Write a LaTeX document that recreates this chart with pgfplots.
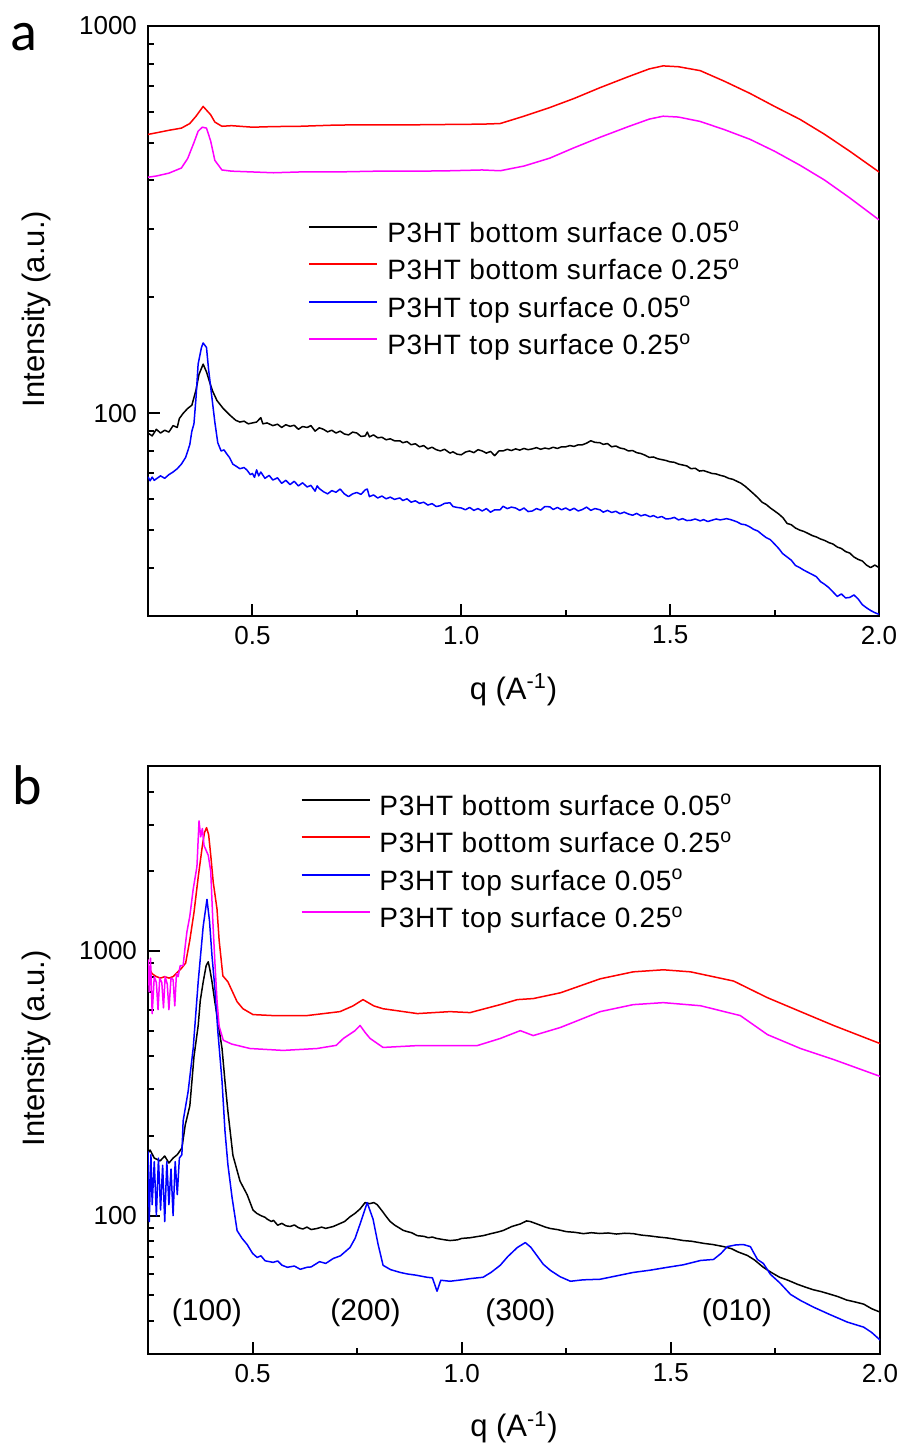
\documentclass[border=0pt]{standalone}
\usepackage{fontspec}
\setmainfont{Liberation Sans}
\newfontfamily\panelfont{Carlito}
\newfontfamily\legfont[LetterSpace=2.5]{Liberation Sans}
\usepackage{pgfplots}
\pgfplotsset{compat=1.18}

\definecolor{cred}{RGB}{255,0,0}
\definecolor{cblue}{RGB}{0,0,255}
\definecolor{cmag}{RGB}{255,0,255}

\pgfplotsset{
  refaxis/.style={
    scale only axis,
    xmin=0.25, xmax=2.0, ymin=30,
    axis line style={line width=1pt},
    xtick={0.5,1.0,1.5,2.0},
    xticklabels={0.5,1.0,1.5,2.0},
    minor xtick={0.75,1.25,1.75},
    xtick pos=bottom, ytick pos=left,
    tick align=inside,
    major tick length=6pt, minor tick length=3pt,
    every tick/.style={black, line width=1pt},
    tick label style={font=\fontsize{13}{15}\selectfont},
    xticklabel style={yshift=-1.5pt},
    yticklabel style={xshift=-2pt},
    /pgf/number format/assume math mode=true,
    xlabel={q (A\textsuperscript{-1})},
    ylabel={Intensity (a.u.)},
    every axis y label/.style={at={(axis description cs:-0.152,0.52)}, rotate=90, anchor=center, font=\fontsize{15.5}{18}\selectfont},
    every axis x label/.style={at={(axis description cs:0.5,-0.125)}, anchor=center, font=\fontsize{15.5}{18}\selectfont},
    legend cell align=left,
    legend style={draw=none, fill=none, anchor=north west,
      font=\legfont\fontsize{14}{17}\selectfont, inner sep=0pt,
      row sep=5.25pt, column sep=4.5pt,
      nodes={inner sep=0pt, text height=10.5pt, text depth=3pt}},
    legend image code/.code={\draw[#1, line width=0.9pt] (0pt,3.9pt) -- (34pt,3.9pt);},
    every axis plot/.append style={line width=0.75pt, line join=round},
  }
}

\begin{document}
\begin{tikzpicture}
\path[use as bounding box] (0pt,0pt) rectangle (451pt,-724.5pt);

% panel a
\begin{semilogyaxis}[refaxis, at={(74pt,-308pt)}, anchor=south west,
  width=365.5pt, height=295pt, ymax=1000,
  ytick={100,1000}, yticklabels={100,1000},
  minor ytick={40,50,60,70,80,90,200,300,400,500,600,700,800,900},
  legend style={at={(0.219,0.670)}}]
\addplot[black] coordinates {(0.25,89) (0.26,87.5) (0.27,91) (0.28,89) (0.29,90.5) (0.3,89.5) (0.31,93) (0.32,92) (0.325,97) (0.334,100) (0.345,103) (0.355,105) (0.365,115) (0.372,126) (0.382,134) (0.39,128) (0.398,120) (0.405,114) (0.415,108) (0.43,103) (0.446,99) (0.46,96) (0.47,95) (0.48,95.5) (0.49,94) (0.5,94.5) (0.51,95) (0.52,97.5) (0.525,94) (0.535,94.5) (0.549,93) (0.56,93.8) (0.57,92) (0.58,93.5) (0.59,92.6) (0.6,93.2) (0.61,91) (0.62,92.5) (0.631,92) (0.64,93) (0.65,90) (0.66,91.8) (0.67,91) (0.68,89.6) (0.69,90.5) (0.7,89) (0.71,90) (0.72,88.5) (0.73,88) (0.74,89.5) (0.75,89) (0.76,87.2) (0.77,87.5) (0.775,89.5) (0.78,87) (0.79,88) (0.8,86.5) (0.81,86.8) (0.82,85.5) (0.83,86) (0.84,85) (0.853,85) (0.86,84) (0.87,84.6) (0.88,83) (0.89,83.5) (0.9,82) (0.91,82.6) (0.92,81) (0.93,81.8) (0.94,80.6) (0.95,80) (0.96,80.8) (0.973,79) (0.98,79.6) (0.99,78.5) (1.0,78.2) (1.01,79.5) (1.02,80) (1.03,79.2) (1.04,80.6) (1.05,80) (1.06,79) (1.07,79.8) (1.08,77.8) (1.09,80) (1.1,80) (1.11,80.8) (1.12,80.2) (1.13,81) (1.14,80.4) (1.15,81.2) (1.16,80.6) (1.17,81) (1.18,81.6) (1.19,80.8) (1.2,81.4) (1.21,81) (1.22,81.8) (1.23,81.2) (1.24,82) (1.25,82) (1.26,82.6) (1.27,82.2) (1.28,83) (1.29,83) (1.3,83.8) (1.31,85) (1.32,84.2) (1.332,84) (1.34,83.2) (1.35,83.6) (1.36,82) (1.37,82.4) (1.38,81.4) (1.39,81) (1.4,80) (1.41,80.2) (1.42,79.2) (1.43,78.8) (1.44,78) (1.45,77) (1.46,77.2) (1.47,76.4) (1.48,76) (1.49,75.6) (1.5,75) (1.51,74.8) (1.52,74) (1.53,73.6) (1.54,73.2) (1.55,72) (1.56,72.2) (1.57,71) (1.58,71.2) (1.59,70.6) (1.6,70) (1.61,69.8) (1.62,69.2) (1.63,68.8) (1.64,68) (1.65,67.6) (1.66,66.8) (1.67,66) (1.68,64.8) (1.69,63.4) (1.7,62) (1.71,60.6) (1.72,59) (1.73,58.2) (1.74,57) (1.75,56) (1.76,55) (1.77,53.8) (1.78,52) (1.79,51.6) (1.8,50.6) (1.81,50) (1.82,49.6) (1.83,49) (1.84,48.4) (1.85,48) (1.86,47.4) (1.87,47) (1.88,46.4) (1.89,46) (1.9,45.2) (1.91,44.8) (1.92,44) (1.93,43.6) (1.94,42.6) (1.95,42) (1.96,41.6) (1.97,40.6) (1.98,40) (1.99,40.6) (2.0,40)};
\addlegendentry{P3HT bottom surface 0.05\textsuperscript{o}}
\addplot[cred] coordinates {(0.25,525) (0.27,530) (0.3,538) (0.33,545) (0.35,560) (0.365,585) (0.382,620) (0.4,590) (0.41,565) (0.427,551) (0.45,553) (0.5,548) (0.55,550) (0.614,551) (0.7,555) (0.8,556) (0.9,556) (0.973,557) (1.05,558) (1.093,560) (1.15,585) (1.212,616) (1.27,650) (1.332,693) (1.4,740) (1.45,775) (1.483,789) (1.52,785) (1.572,767) (1.63,720) (1.691,670) (1.75,620) (1.811,574) (1.87,525) (1.93,475) (2.0,420)};
\addlegendentry{P3HT bottom surface 0.25\textsuperscript{o}}
\addplot[cblue] coordinates {(0.25,68.6) (0.255,67) (0.26,68.5) (0.265,67.2) (0.27,67.8) (0.28,69) (0.29,68) (0.3,69.5) (0.31,70.6) (0.32,72) (0.33,74) (0.34,77) (0.35,83) (0.355,90) (0.36,94) (0.365,110) (0.37,134) (0.378,148) (0.382,152) (0.39,148) (0.395,130) (0.4,117) (0.41,95) (0.417,84) (0.425,80) (0.432,80.5) (0.439,78.5) (0.445,77) (0.453,74) (0.46,73.2) (0.47,72) (0.48,72.5) (0.487,71.4) (0.495,69.5) (0.5,70) (0.505,68.4) (0.51,71.5) (0.515,69) (0.52,70.6) (0.53,68) (0.54,69.2) (0.549,67.3) (0.56,68.2) (0.57,66) (0.58,67.2) (0.59,65.5) (0.6,66.8) (0.61,65) (0.62,66.2) (0.631,64.6) (0.64,65.2) (0.65,63) (0.655,65) (0.66,64) (0.67,62.8) (0.68,62) (0.69,63.2) (0.7,62.6) (0.71,63.8) (0.72,62) (0.73,61) (0.74,62) (0.75,62.5) (0.76,61.8) (0.77,63.5) (0.775,63.8) (0.78,61) (0.79,61.6) (0.8,60.5) (0.81,61.2) (0.82,60.2) (0.83,60.8) (0.84,60) (0.853,60.5) (0.86,59.6) (0.87,60.2) (0.88,59) (0.89,59.5) (0.9,58.6) (0.91,59) (0.92,58) (0.93,58.5) (0.94,57.5) (0.95,57.8) (0.96,58.6) (0.973,58.8) (0.98,57.5) (0.99,57.2) (1.0,57) (1.01,56.4) (1.02,57.2) (1.03,56.2) (1.04,56.8) (1.05,56) (1.06,56.8) (1.07,55.6) (1.08,56.4) (1.093,56.4) (1.1,57.6) (1.11,56.8) (1.12,57.3) (1.13,57) (1.14,56.2) (1.15,57) (1.16,55.8) (1.17,56) (1.18,56.8) (1.19,56.3) (1.2,57.5) (1.212,57.4) (1.22,56.5) (1.23,57.2) (1.24,56.4) (1.25,57) (1.26,56.2) (1.27,56.9) (1.28,56) (1.29,56.5) (1.3,57.3) (1.31,56.2) (1.32,56.8) (1.332,56.4) (1.34,55.6) (1.35,56.2) (1.36,55.5) (1.37,55.9) (1.38,55.1) (1.39,55.6) (1.4,55) (1.41,54.6) (1.42,55.2) (1.43,54.4) (1.44,54.8) (1.452,54.1) (1.46,54.5) (1.47,53.8) (1.48,54.2) (1.49,53.4) (1.5,53.5) (1.51,53.9) (1.52,53.1) (1.53,53.5) (1.54,52.9) (1.55,53) (1.56,53.4) (1.572,52.8) (1.58,53.2) (1.59,52.6) (1.6,53) (1.61,53.4) (1.62,53.1) (1.635,53.5) (1.645,53.2) (1.66,52.5) (1.67,51.8) (1.68,51.6) (1.69,51) (1.7,50.2) (1.71,49.7) (1.72,48.7) (1.73,47.8) (1.74,47.2) (1.75,46) (1.76,44.8) (1.769,43.5) (1.78,42.6) (1.79,41.8) (1.8,40.5) (1.81,40) (1.82,39.4) (1.83,38.9) (1.84,38.4) (1.85,37.9) (1.86,36.8) (1.87,36.2) (1.88,35.5) (1.89,34.6) (1.9,33.7) (1.91,34.2) (1.92,33.4) (1.93,33.5) (1.94,34) (1.95,33.2) (1.96,32.1) (1.97,31.5) (1.98,31) (1.99,30.6) (2.0,30.3)};
\addlegendentry{P3HT top surface 0.05\textsuperscript{o}}
\addplot[cmag] coordinates {(0.25,407) (0.27,410) (0.3,417) (0.33,430) (0.345,455) (0.36,500) (0.37,535) (0.38,548) (0.39,545) (0.4,505) (0.41,450) (0.427,425) (0.45,422) (0.5,420) (0.55,418) (0.614,420) (0.7,420) (0.8,422) (0.9,422) (0.973,423) (1.05,425) (1.093,423) (1.15,435) (1.212,456) (1.27,485) (1.332,516) (1.4,550) (1.45,575) (1.483,585) (1.52,582) (1.572,567) (1.63,540) (1.691,510) (1.75,475) (1.811,437) (1.87,400) (1.93,360) (2.0,316)};
\addlegendentry{P3HT top surface 0.25\textsuperscript{o}}
\end{semilogyaxis}

% panel b
\begin{semilogyaxis}[refaxis, at={(74pt,-677pt)}, anchor=south west,
  width=366pt, height=294pt, ymax=5000,
  ytick={100,1000}, yticklabels={100,1000},
  minor ytick={40,50,60,70,80,90,200,300,400,500,600,700,800,900,2000,3000,4000},
  legend style={at={(0.208,0.953)}}]
\addplot[black] coordinates {(0.25,172) (0.255,177) (0.265,165) (0.279,161) (0.29,168) (0.3,158) (0.31,165) (0.32,170) (0.331,180) (0.339,220) (0.35,260) (0.355,322) (0.36,400) (0.37,523) (0.375,650) (0.382,765) (0.389,880) (0.394,910) (0.398,850) (0.403,765) (0.41,640) (0.415,570) (0.427,428) (0.434,322) (0.441,248) (0.453,169) (0.47,135) (0.487,120) (0.501,105) (0.51,102) (0.52,100) (0.53,98.5) (0.535,97) (0.545,95) (0.55,96) (0.56,92) (0.57,93.5) (0.58,91.5) (0.59,91) (0.6,92.2) (0.61,90) (0.62,89) (0.63,90.5) (0.64,88.6) (0.654,89.4) (0.665,90.5) (0.675,89.5) (0.693,91) (0.71,93.5) (0.72,95) (0.733,99) (0.745,102) (0.757,106) (0.769,112) (0.78,111) (0.79,112) (0.798,110) (0.81,104) (0.82,99) (0.829,95) (0.84,92) (0.85,90) (0.86,88) (0.87,87) (0.88,86.2) (0.894,84) (0.91,83.5) (0.92,82.5) (0.93,83) (0.94,82) (0.95,81.5) (0.96,81) (0.972,80.5) (0.99,81) (1.0,82) (1.02,82.5) (1.04,83.5) (1.051,84) (1.07,85.5) (1.09,87) (1.1,88) (1.12,91) (1.14,93) (1.155,95.5) (1.164,95) (1.18,93) (1.2,90.5) (1.212,89.4) (1.23,88.5) (1.25,87) (1.27,86.5) (1.291,85.5) (1.31,86.2) (1.33,85.6) (1.35,86) (1.37,85.2) (1.39,85.8) (1.41,85.5) (1.43,84.4) (1.45,83.8) (1.47,83) (1.49,82.4) (1.51,81.5) (1.53,80.5) (1.55,80) (1.58,78.5) (1.6,77.8) (1.626,76.4) (1.645,75) (1.66,73) (1.683,70.7) (1.7,68) (1.721,63.8) (1.74,61) (1.76,58.5) (1.78,57) (1.803,55) (1.82,53.8) (1.84,52.5) (1.86,51.6) (1.882,50.4) (1.9,49.4) (1.92,48) (1.94,47.2) (1.961,46.3) (1.98,44.5) (2.0,43.2)};
\addlegendentry{P3HT bottom surface 0.05\textsuperscript{o}}
\addplot[cred] coordinates {(0.25,880) (0.26,820) (0.27,800) (0.28,790) (0.29,800) (0.3,790) (0.31,800) (0.32,830) (0.33,860) (0.34,900) (0.35,1100) (0.36,1400) (0.37,1900) (0.38,2500) (0.385,2800) (0.39,2924) (0.395,2750) (0.4,2300) (0.406,1817) (0.415,1439) (0.42,1100) (0.429,805) (0.441,765) (0.463,643) (0.477,605) (0.501,575) (0.549,570) (0.63,570) (0.709,590) (0.74,620) (0.764,655) (0.79,620) (0.812,605) (0.894,580) (0.972,590) (1.02,585) (1.092,627) (1.133,655) (1.171,661) (1.236,695) (1.331,785) (1.41,834) (1.482,849) (1.547,834) (1.65,770) (1.731,666) (1.81,590) (1.889,523) (2.0,447)};
\addlegendentry{P3HT bottom surface 0.25\textsuperscript{o}}
\addplot[cblue] coordinates {(0.25,175) (0.253,95) (0.257,170) (0.26,110) (0.265,160) (0.27,100) (0.275,165) (0.28,105) (0.285,155) (0.29,95) (0.295,160) (0.3,110) (0.305,150) (0.31,100) (0.315,160) (0.32,120) (0.325,165) (0.331,170) (0.334,228) (0.346,295) (0.358,428) (0.37,765) (0.382,1242) (0.391,1567) (0.397,1300) (0.403,958) (0.41,719) (0.417,496) (0.427,322) (0.434,209) (0.441,156) (0.451,117) (0.463,87.8) (0.475,82) (0.487,77.8) (0.5,72) (0.511,69.5) (0.52,70.5) (0.53,67.5) (0.549,66.6) (0.56,67.4) (0.57,65) (0.583,63.8) (0.6,64.5) (0.614,62.7) (0.63,63.8) (0.64,64) (0.66,67) (0.675,66) (0.693,68.9) (0.71,70.5) (0.733,75.8) (0.745,82) (0.757,93) (0.774,112) (0.788,97) (0.8,78) (0.812,64.9) (0.83,62.5) (0.853,61) (0.87,60.2) (0.89,59.6) (0.917,58.5) (0.93,58.2) (0.941,51.8) (0.95,57) (0.972,56.5) (1.0,57.2) (1.02,57.8) (1.051,58.5) (1.07,61) (1.092,64.9) (1.11,70) (1.133,75.8) (1.152,79.1) (1.165,76) (1.181,70.2) (1.195,65.5) (1.212,62.1) (1.235,58.8) (1.26,56.5) (1.29,57.2) (1.331,57.5) (1.37,59.2) (1.41,61) (1.45,62.2) (1.492,63.8) (1.53,65.2) (1.571,67.7) (1.602,68.3) (1.62,72) (1.635,76.4) (1.655,77.5) (1.673,77.8) (1.69,76.4) (1.707,68.3) (1.721,66) (1.738,60) (1.76,55.8) (1.786,50.4) (1.81,47.8) (1.841,45.1) (1.88,42.3) (1.922,39.6) (1.961,37.9) (1.98,36.2) (2.0,33.9)};
\addlegendentry{P3HT top surface 0.05\textsuperscript{o}}
\addplot[cmag] coordinates {(0.25,930) (0.253,700) (0.256,940) (0.26,580) (0.265,800) (0.27,760) (0.274,600) (0.278,790) (0.283,760) (0.287,610) (0.291,800) (0.296,750) (0.3,600) (0.305,790) (0.31,780) (0.314,620) (0.318,820) (0.322,800) (0.327,880) (0.334,880) (0.339,1045) (0.343,1180) (0.35,1354) (0.358,1710) (0.367,2085) (0.372,3100) (0.376,2700) (0.38,2900) (0.384,2500) (0.389,2400) (0.394,2300) (0.4,2000) (0.405,1300) (0.41,900) (0.415,650) (0.42,520) (0.43,460) (0.45,445) (0.494,428) (0.573,421) (0.654,428) (0.7,440) (0.717,467) (0.745,500) (0.757,523) (0.77,490) (0.781,467) (0.812,432) (0.894,439) (0.972,439) (1.037,439) (1.092,467) (1.14,500) (1.171,479) (1.236,514) (1.331,590) (1.41,627) (1.482,638) (1.571,621) (1.666,570) (1.731,483) (1.81,428) (1.889,389) (2.0,336)};
\addlegendentry{P3HT top surface 0.25\textsuperscript{o}}
\node[font=\fontsize{15}{18}\selectfont] at (axis cs:0.391,42.8) {(100)};
\node[font=\fontsize{15}{18}\selectfont] at (axis cs:0.770,42.8) {(200)};
\node[font=\fontsize{15}{18}\selectfont] at (axis cs:1.140,42.8) {(300)};
\node[font=\fontsize{15}{18}\selectfont] at (axis cs:1.658,42.8) {(010)};
\end{semilogyaxis}

\node[font=\panelfont\fontsize{28}{30}\selectfont, anchor=base west, inner sep=0pt] at (5pt,-25.5pt) {a};
\node[font=\panelfont\fontsize{28}{30}\selectfont, anchor=base west, inner sep=0pt] at (6pt,-402pt) {b};
\end{tikzpicture}
\end{document}
